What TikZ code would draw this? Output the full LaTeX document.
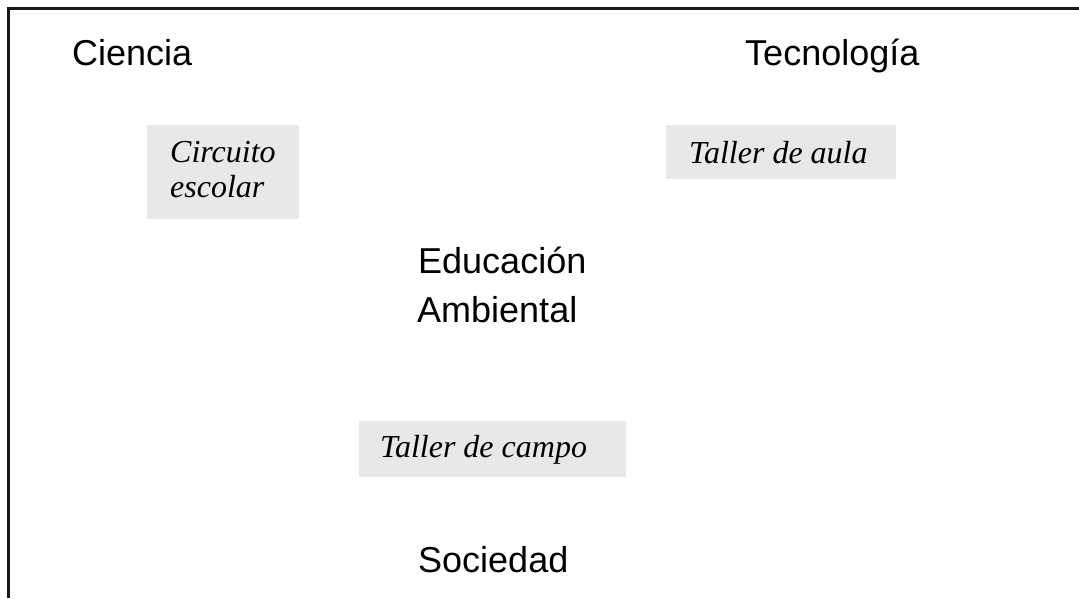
\documentclass[tikz,border=0pt]{standalone}
\usepackage{fontspec}
\setmainfont{Liberation Sans}
\newfontfamily\serifit{Liberation Serif}
\begin{document}
\begin{tikzpicture}[x=1pt,y=-1pt,
  lbl/.style={inner sep=0pt, anchor=base west, font=\fontsize{36}{49}\selectfont},
  itl/.style={inner sep=0pt, anchor=base west, font=\serifit\itshape\fontsize{32}{35}\selectfont},
  graybox/.style={fill=boxgray, draw=none}]
\definecolor{boxgray}{HTML}{E8E8E8}
\useasboundingbox (0,0) rectangle (1079,598);
\fill[white] (0,0) rectangle (1079,598);
% frame
\coordinate (tl) at (8.5,8.5);
\coordinate (tr) at (1079,8.5);
\coordinate (bl) at (8.5,598);
\draw[line width=2.4pt, black!90] (tr) -- (tl) -- (bl);
% gray boxes
\fill[graybox] (147,125) rectangle (299,219);
\fill[graybox] (666,125) rectangle (896,179);
\fill[graybox] (359,421) rectangle (626,477);
% labels
\node[lbl] (ciencia) at (72,65) {Ciencia};
\node[lbl] (tecno) at (745,65) {Tecnología};
\node[lbl] (edu1) at (418,273) {Educación};
\node[lbl] (edu2) at (417,322) {Ambiental};
\node[lbl] (soc) at (418,572) {Sociedad};
\node[itl] (circ1) at (170,162) {Circuito};
\node[itl] (circ2) at (170,197) {escolar};
\node[itl] (aula) at (689,163) {Taller de aula};
\node[itl] (campo) at (380,457) {Taller de campo};
\end{tikzpicture}
\end{document}
